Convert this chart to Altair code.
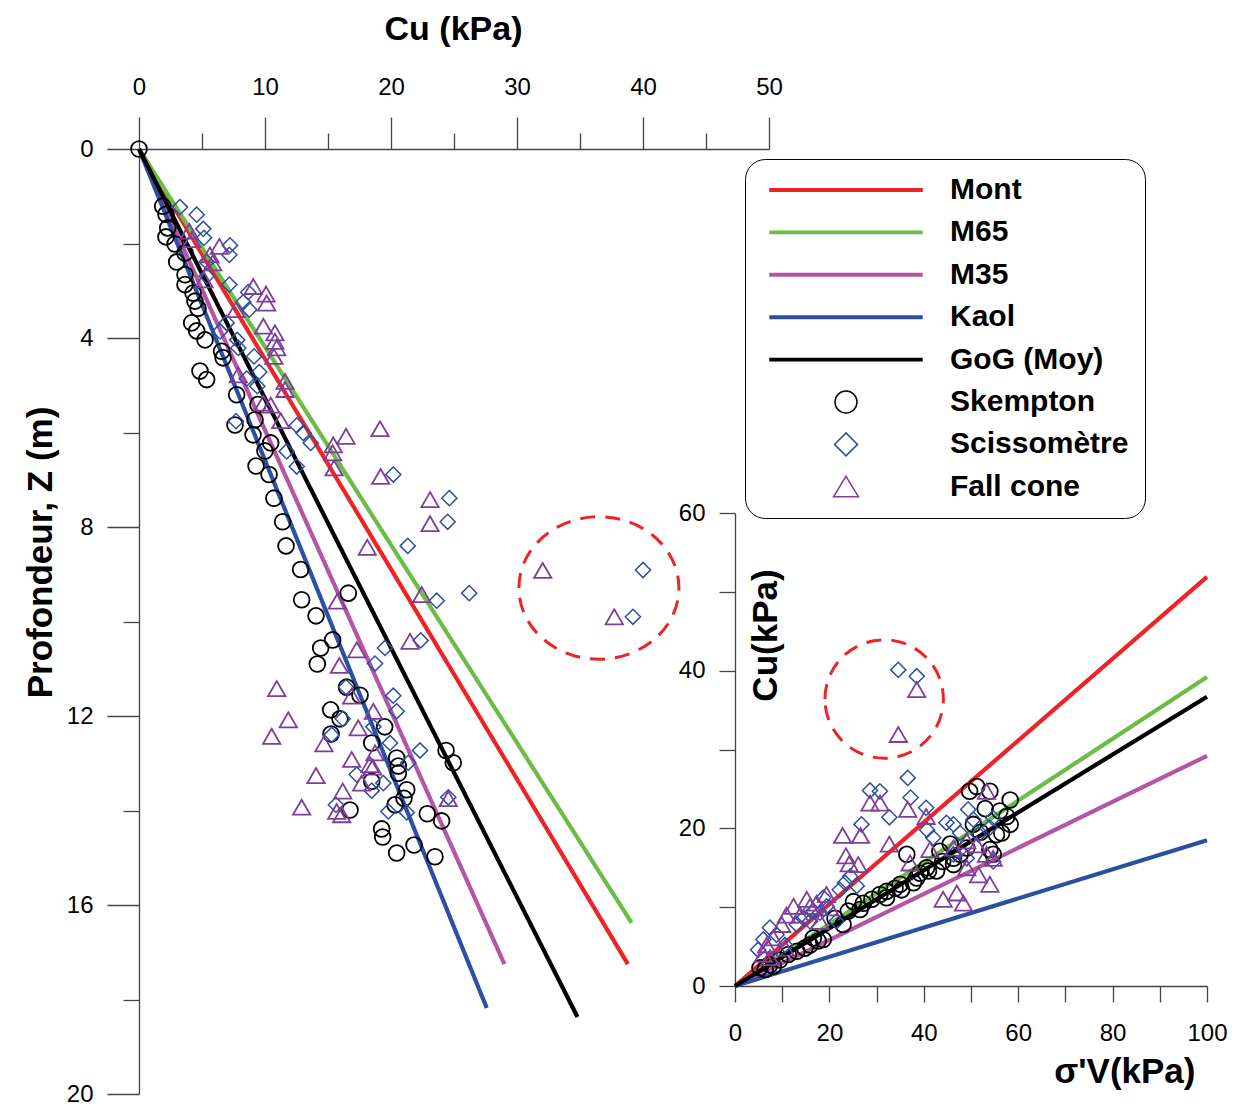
import altair as alt
import pandas as pd

# ---------------- data ----------------
serie_names = ["Mont", "M65", "M35", "Kaol", "GoG (Moy)"]
line_colors = ["#EE2326", "#6CBD45", "#B455A5", "#2C4FA1", "#000000"]

# main chart: straight lines from the origin to their end points (Cu kPa, Z m)
main_end_cu = [38.8, 39.1, 29.0, 27.6, 34.8]
main_end_z = [17.25, 16.38, 17.25, 18.18, 18.37]

# inset: lines from origin to (sigma'v = 100, Cu)
inset_end_sig = [100, 100, 100, 100, 100]
inset_end_cu = [51.9, 39.2, 29.2, 18.5, 36.7]

# main chart points (Cu kPa, Z m)
sk_cu = [0, 1.88, 2.14, 2.28, 2.14, 2.86, 3.65, 2.99, 3.65, 3.65, 4.29, 4.44, 4.68, 4.18, 4.58,
         5.24, 6.56, 6.67, 4.84, 5.37, 7.75, 9.44, 7.62, 9.21, 9.05, 10.45, 10.0, 9.29, 10.32,
         10.71, 11.40, 11.67, 12.83, 12.91, 16.61, 14.05, 15.37, 14.42, 14.15, 16.48, 17.54,
         15.21, 15.95, 15.24, 19.50, 18.47, 20.45, 20.58, 20.58, 24.37, 24.94, 18.47, 21.25,
         21.03, 20.32, 16.75, 22.88, 24.02, 19.26, 19.34, 21.83, 20.45, 23.49]
sk_z = [0, 1.21, 1.38, 1.67, 1.86, 2.01, 2.20, 2.39, 2.66, 2.87, 3.05, 3.22, 3.37, 3.68, 3.85,
        4.04, 4.28, 4.42, 4.70, 4.88, 5.20, 5.41, 5.84, 5.73, 6.05, 6.22, 6.39, 6.71, 6.89,
        7.39, 7.89, 8.40, 8.90, 9.54, 9.40, 9.88, 10.39, 10.56, 10.90, 11.39, 11.56,
        11.87, 12.06, 12.38, 12.23, 12.57, 12.89, 13.06, 13.21, 12.73, 12.99, 13.38, 13.56,
        13.74, 13.88, 13.99, 14.07, 14.22, 14.39, 14.56, 14.73, 14.90, 14.98]

sc_cu = [3.25, 4.58, 5.10, 5.16, 7.22, 7.17, 5.37, 5.37, 7.17, 8.67, 8.28, 8.75, 6.96, 6.43,
         7.80, 7.88, 9.13, 9.55, 8.55, 9.39, 7.70, 12.52, 13.04, 13.63, 11.72, 12.52, 20.18,
         24.63, 24.50, 21.33, 26.21, 23.63, 22.36, 19.52, 18.73, 20.18, 20.45, 16.43, 16.17,
         15.29, 18.60, 19.92, 22.30, 21.37, 17.28, 19.39, 18.47, 24.55, 15.63, 19.79, 21.25,
         40.0, 39.2]
sc_z = [1.23, 1.39, 1.69, 1.88, 2.04, 2.24, 2.39, 2.69, 2.87, 3.03, 3.24, 3.40, 3.68, 3.86,
        4.04, 4.21, 4.39, 4.72, 4.86, 5.02, 5.76, 5.85, 6.01, 6.22, 6.40, 6.72, 6.89,
        7.39, 7.89, 8.40, 9.40, 9.56, 10.40, 10.56, 10.89, 11.57, 11.90, 11.39, 12.06,
        12.40, 12.23, 12.57, 12.73, 12.99, 13.24, 13.42, 13.58, 13.72, 13.88, 14.02, 14.04,
        8.91, 9.90]

fc_cu = [3.99, 4.18, 6.37, 5.63, 5.85, 5.16, 9.07, 10.08, 10.13, 7.70, 9.87, 10.79, 10.79,
         10.93, 10.71, 7.88, 11.59, 11.59, 9.87, 10.45, 11.25, 19.13, 16.43, 15.42, 15.37,
         15.48, 19.18, 23.10, 23.10, 18.12, 22.44, 15.74, 21.51, 17.28, 15.90, 10.93, 16.88,
         11.85, 10.53, 18.60, 17.40, 14.68, 18.73, 16.88, 18.33, 18.55, 14.05, 17.67, 16.17,
         24.55, 12.91, 15.69, 16.09, 32.04, 37.72]
fc_z = [1.74, 1.92, 2.06, 2.24, 2.41, 2.77, 2.91, 3.07, 3.26, 3.40, 3.75, 3.89, 4.07,
        4.21, 4.39, 4.78, 4.92, 5.09, 5.38, 5.42, 5.75, 5.92, 6.08, 6.26, 6.43,
        6.75, 6.93, 7.42, 7.93, 8.43, 9.43, 9.57, 10.42, 10.60, 10.93, 11.42, 11.58,
        12.08, 12.43, 11.90, 12.25, 12.59, 12.78, 12.92, 13.03, 13.08, 13.26, 13.42, 13.59,
        13.75, 13.93, 14.02, 14.09, 8.92, 9.90]

# inset points (sigma'v kPa, Cu kPa)
isk_sig = [49.7, 51.2, 54.0, 58.3, 56.1, 57.6, 58.3, 56.5, 50.5, 36.4, 45.6, 43.4, 46.3, 47.7,
           54.0, 54.7, 42.7, 41.0, 39.2, 37.8, 35.0, 33.9, 32.1, 30.7, 29.0, 27.2, 26.5, 25.1,
           24.0, 22.9, 21.2, 18.7, 17.6, 14.8, 13.1, 11.3, 9.5, 7.4, 5.3, 6.4, 8.1, 15.9, 16.6,
           32.1, 35.3, 38.5, 40.6, 46.3, 49.1, 55.4, 53.0, 52.0, 44.0]
isk_cu = [24.7, 25.3, 24.7, 23.6, 22.2, 21.5, 20.5, 19.4, 20.5, 16.7, 18.0, 17.1, 16.2, 16.7,
          17.3, 16.7, 14.6, 14.6, 14.3, 13.1, 12.9, 12.4, 12.0, 11.6, 11.0, 10.5, 9.7, 10.7,
          9.5, 7.8, 8.6, 5.9, 5.7, 4.8, 4.4, 4.0, 3.3, 2.7, 2.3, 2.1, 2.5, 5.2, 6.1,
          11.2, 12.2, 13.7, 15.0, 15.4, 17.5, 19.2, 22.5, 19.5, 15.8]

isc_sig = [34.6, 38.5, 36.6, 28.6, 30.7, 37.2, 40.5, 32.7, 40.7, 42.0, 26.8, 44.8, 46.3, 49.4,
           50.5, 54.7, 54.0, 47.7, 51.6, 46.3, 49.1, 54.7, 24.4, 23.3, 25.8, 22.2, 19.4, 18.0,
           15.9, 21.5, 14.5, 7.4, 8.8, 6.0, 4.9, 10.6, 13.1, 16.6, 18.7]
isc_cu = [40.1, 39.3, 26.4, 24.8, 24.7, 23.9, 22.6, 21.4, 19.8, 18.8, 20.5, 20.7, 20.5, 22.4,
          21.1, 21.3, 20.1, 19.4, 19.2, 16.7, 16.2, 15.8, 13.9, 13.1, 12.7, 12.2, 10.1, 9.3,
          8.2, 8.2, 8.6, 7.4, 6.5, 5.9, 4.6, 5.2, 7.8, 9.5, 11.2]

ifc_sig = [38.5, 34.6, 28.6, 30.7, 36.6, 40.5, 22.8, 26.6, 32.7, 23.5, 24.2, 26.1, 41.3, 37.1,
           53.3, 46.3, 49.1, 51.2, 53.3, 49.1, 51.6, 54.7, 54.0, 44.1, 47.0, 48.4, 19.4, 17.3,
           15.2, 12.4, 10.9, 13.8, 20.1, 15.9, 9.9, 8.1, 6.7, 10.6, 6.0, 7.4, 18.0]
ifc_cu = [37.6, 31.9, 23.2, 23.2, 22.4, 21.5, 19.1, 19.1, 18.0, 16.5, 15.5, 15.4, 17.3, 15.6,
          24.7, 17.5, 18.4, 17.9, 16.7, 15.0, 14.1, 16.2, 12.9, 11.0, 11.8, 10.5, 11.6, 10.5,
          11.0, 10.1, 9.0, 9.0, 9.9, 10.1, 7.8, 6.1, 5.2, 4.8, 4.0, 3.6, 8.2]

# dashed circles around the outliers (centre)
main_ring_cu, main_ring_z = [36.5], [9.29]
inset_ring_sig, inset_ring_cu = [31.6], [36.4]

legend_names = serie_names + ["Skempton", "Scissomètre", "Fall cone"]

# ---------------- styles ----------------
FONT = "Liberation Sans, Arial, sans-serif"
BLUE = "#2D4FA0"
PURPLE = "#7E3F98"
RED = "#EE2326"
AX = "#444444"

MX = alt.Scale(domain=[0, 50], range=[0, 630], nice=False, zero=False)
MY = alt.Scale(domain=[0, 20], range=[0, 945], nice=False, zero=False)
IX = alt.Scale(domain=[0, 100], range=[596, 1068], nice=False, zero=False)
IY = alt.Scale(domain=[0, 60], range=[837, 364], nice=False, zero=False)

def lines_df(xs, ys):
    rows = []
    for n, xe, ye in zip(serie_names, xs, ys):
        rows.append({"serie": n, "x": 0.0, "y": 0.0, "o": 0})
        rows.append({"serie": n, "x": xe, "y": ye, "o": 1})
    return pd.DataFrame(rows)

def pts(xs, ys):
    return pd.DataFrame({"x": xs, "y": ys})

line_color = alt.Color("serie:N", scale=alt.Scale(domain=serie_names, range=line_colors), legend=None)

def line_layer(df, sx, sy, xaxis=None, yaxis=None):
    return alt.Chart(df).mark_line(strokeWidth=4.2).encode(
        x=alt.X("x:Q", scale=sx, axis=xaxis),
        y=alt.Y("y:Q", scale=sy, axis=yaxis),
        color=line_color,
        order="o:Q",
    )

def point_layer(df, sx, sy, shape, size, color, sw, xaxis=None, yaxis=None, dash=None):
    kw = dict(shape=shape, size=size, color=color, strokeWidth=sw, filled=False, opacity=1)
    if dash:
        kw["strokeDash"] = dash
    return alt.Chart(df).mark_point(**kw).encode(
        x=alt.X("x:Q", scale=sx, axis=xaxis),
        y=alt.Y("y:Q", scale=sy, axis=yaxis),
    )

TS = 35  # title font size

# axes
main_x_major = alt.Axis(orient="top", values=[0, 10, 20, 30, 40, 50], tickSize=32, labelPadding=18,
                        labelFontSize=24, title="Cu (kPa)", titleFontSize=34, titleFontWeight="bold",
                        titleX=314, titleY=-120, titleBaseline="middle", titleAlign="center",
                        labelFlush=False, labelOverlap=False, grid=False)
main_x_minor = alt.Axis(orient="top", values=[5, 15, 25, 35, 45], tickSize=16, labels=False,
                        domain=False, title=None, grid=False)
main_y_major = alt.Axis(orient="left", values=[0, 4, 8, 12, 16, 20], tickSize=32, labelPadding=14,
                        labelFontSize=24, title="Profondeur, Z (m)", titleFontSize=TS,
                        titleFontWeight="bold", titleAngle=270, titleX=-99, titleY=403,
                        titleBaseline="middle", titleAlign="center", labelFlush=False,
                        labelOverlap=False, grid=False)
main_y_minor = alt.Axis(orient="left", values=[2, 6, 10, 14, 18], tickSize=16, labels=False,
                        domain=False, title=None, grid=False)
inset_x_axis = alt.Axis(orient="bottom", offset=-108, values=list(range(0, 101, 10)), tickSize=16,
                        labelPadding=19, labelFontSize=24,
                        labelExpr="datum.value % 20 === 0 ? datum.label : ''",
                        title="σ'V(kPa)", titleFontSize=TS, titleFontWeight="bold",
                        titleX=1056, titleY=85, titleAlign="right", titleBaseline="middle",
                        labelFlush=False, labelOverlap=False, grid=False)
inset_y_axis = alt.Axis(orient="left", offset=-596, values=list(range(0, 61, 10)), tickSize=16,
                        labelPadding=14, labelFontSize=24,
                        labelExpr="datum.value % 20 === 0 ? datum.label : ''",
                        title="Cu(kPa)", titleFontSize=TS, titleFontWeight="bold", titleAngle=270,
                        titleX=30, titleY=486, titleBaseline="middle", titleAlign="center",
                        labelFlush=False, labelOverlap=False, grid=False)

ring_main = "M-2,0A2,1.78,0,1,1,2,0A2,1.78,0,1,1,-2,0Z"
ring_inset = "M-1.48,0A1.48,1.48,0,1,1,1.48,0A1.48,1.48,0,1,1,-1.48,0Z"

layers = [
    # main chart
    line_layer(lines_df(main_end_cu, main_end_z), MX, MY, main_x_major, main_y_major),
    point_layer(pts(sk_cu, sk_z), MX, MY, "circle", 250, "#000000", 1.8, main_x_minor, main_y_minor),
    point_layer(pts(sc_cu, sc_z), MX, MY, "diamond", 230, BLUE, 1.5),
    point_layer(pts(fc_cu, fc_z), MX, MY, "triangle-up", 300, PURPLE, 1.8),
    point_layer(pts(main_ring_cu, main_ring_z), MX, MY, ring_main, 6400, RED, 3, dash=[15, 10]),
    # inset
    line_layer(lines_df(inset_end_sig, inset_end_cu), IX, IY, inset_x_axis, inset_y_axis),
    point_layer(pts(isk_sig, isk_cu), IX, IY, "circle", 250, "#000000", 1.8),
    point_layer(pts(isc_sig, isc_cu), IX, IY, "diamond", 230, BLUE, 1.5),
    point_layer(pts(ifc_sig, ifc_cu), IX, IY, "triangle-up", 300, PURPLE, 1.8),
    point_layer(pts(inset_ring_sig, inset_ring_cu), IX, IY, ring_inset, 6400, RED, 3, dash=[15, 10]),
]

# legend (built from an empty layer so only the legend is drawn)
line_sym = "M-7.6,-0.12H7.6V0.12H-7.6Z"
circ_sym = "M1.1,0A1.1,1.1,0,1,1,-1.1,0A1.1,1.1,0,1,1,1.1,0Z"
diam_sym = "M0,-1.15L1.15,0L0,1.15L-1.15,0Z"
tri_sym = "M0,-1.05L1.25,1.0L-1.25,1.0Z"
leg_fill = line_colors + ["transparent"] * 3
leg_stroke = line_colors + ["#000000", BLUE, PURPLE]
leg_shape = [line_sym] * 5 + [circ_sym, diam_sym, tri_sym]

legend = alt.Legend(title=None, orient="none", legendX=606, legendY=10, direction="vertical",
                    padding=16, strokeColor="#000000", cornerRadius=20, fillColor="white",
                    labelFont=FONT, labelFontSize=30, labelFontWeight="bold", labelColor="black",
                    labelLimit=400, symbolOffset=70, labelOffset=89, rowPadding=12.4,
                    symbolSize=400, symbolStrokeWidth=1.5)

legend_layer = alt.Chart(pd.DataFrame({"serie": legend_names})).transform_filter("false").mark_point(
    size=400, opacity=1, strokeWidth=1.5
).encode(
    fill=alt.Fill("serie:N", scale=alt.Scale(domain=legend_names, range=leg_fill), legend=legend),
    stroke=alt.Stroke("serie:N", scale=alt.Scale(domain=legend_names, range=leg_stroke), legend=legend),
    shape=alt.Shape("serie:N", scale=alt.Scale(domain=legend_names, range=leg_shape), legend=legend),
)
layers.append(legend_layer)

chart = alt.layer(*layers).resolve_scale(
    x="independent", y="independent"
).properties(
    width=1068, height=945,
    autosize=alt.AutoSizeParams(type="none"),
    padding={"left": 131, "top": 141, "right": 29, "bottom": 11},
).configure_view(stroke=None).configure_axis(
    labelFont=FONT, titleFont=FONT, labelColor="black", titleColor="black",
    domainColor=AX, tickColor=AX, domainWidth=1.3, tickWidth=1.3,
)

chart.save("out.html", embed_options={"renderer": "svg", "actions": False})
